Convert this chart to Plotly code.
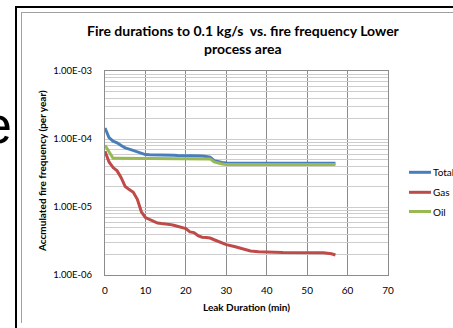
import plotly.graph_objects as go

# ---- data ----
duration = [0, 1, 2, 3, 4, 5, 6, 7, 8, 9, 10, 11, 12, 13, 14, 15, 16, 17, 18, 19,
            20, 21, 22, 23, 24, 25, 26, 27, 28, 29, 30, 32, 34, 36, 38, 40, 42, 44,
            46, 48, 50, 52, 54, 56, 57]

total = [1.45e-4, 1.05e-4, 9.3e-5, 8.8e-5, 8.0e-5, 7.4e-5, 7.1e-5, 6.8e-5, 6.5e-5, 6.1e-5,
         5.9e-5, 5.85e-5, 5.85e-5, 5.8e-5, 5.8e-5, 5.8e-5, 5.75e-5, 5.75e-5, 5.7e-5, 5.7e-5,
         5.7e-5, 5.65e-5, 5.6e-5, 5.6e-5, 5.6e-5, 5.55e-5, 5.4e-5, 4.8e-5, 4.6e-5, 4.5e-5,
         4.45e-5, 4.4e-5, 4.4e-5, 4.4e-5, 4.4e-5, 4.4e-5, 4.4e-5, 4.4e-5,
         4.4e-5, 4.4e-5, 4.4e-5, 4.4e-5, 4.4e-5, 4.4e-5, 4.4e-5]

gas = [6.6e-5, 4.6e-5, 3.8e-5, 3.4e-5, 2.7e-5, 2.0e-5, 1.8e-5, 1.65e-5, 1.3e-5, 8.5e-6,
       7.0e-6, 6.6e-6, 6.1e-6, 5.8e-6, 5.7e-6, 5.65e-6, 5.55e-6, 5.4e-6, 5.2e-6, 5.0e-6,
       4.8e-6, 4.3e-6, 4.2e-6, 3.8e-6, 3.6e-6, 3.55e-6, 3.5e-6, 3.3e-6, 3.1e-6, 2.95e-6,
       2.8e-6, 2.62e-6, 2.42e-6, 2.25e-6, 2.2e-6, 2.2e-6, 2.16e-6, 2.14e-6,
       2.13e-6, 2.12e-6, 2.12e-6, 2.12e-6, 2.12e-6, 2.05e-6, 1.97e-6]

oil = [8.1e-5, 6.4e-5, 5.2e-5, 5.2e-5, 5.2e-5, 5.2e-5, 5.2e-5, 5.2e-5, 5.2e-5, 5.2e-5,
       5.2e-5, 5.2e-5, 5.2e-5, 5.2e-5, 5.2e-5, 5.2e-5, 5.2e-5, 5.2e-5, 5.2e-5, 5.2e-5,
       5.2e-5, 5.2e-5, 5.2e-5, 5.2e-5, 5.2e-5, 5.2e-5, 5.1e-5, 4.6e-5, 4.4e-5, 4.3e-5,
       4.2e-5, 4.2e-5, 4.2e-5, 4.2e-5, 4.2e-5, 4.2e-5, 4.2e-5, 4.2e-5,
       4.2e-5, 4.2e-5, 4.2e-5, 4.2e-5, 4.2e-5, 4.2e-5, 4.2e-5]

series_names = ["Total", "Gas", "Oil"]
series_colors = ["#4A7EBB", "#BE4B48", "#98B954"]

x_ticks = [0, 10, 20, 30, 40, 50, 60, 70]
y_major = [1e-6, 1e-5, 1e-4, 1e-3]
y_major_text = ["1.00E-06", "1.00E-05", "1.00E-04", "1.00E-03"]

# ---- geometry ----
W, H = 453, 328
L, R, T, B = 105, 388, 71, 275   # plot area in pixels


def px_x(p):
    return (p - L) / (R - L)


def px_y(p):
    return (B - p) / (B - T)


FONT = "Lato"

fig = go.Figure()
for name, vals, col in zip(series_names, [total, gas, oil], series_colors):
    fig.add_trace(go.Scatter(x=duration, y=vals, mode="lines", name=name,
                             line=dict(color=col, width=3), showlegend=False))

# y tick values: decades labelled, intermediate minor values unlabelled
y_tickvals, y_ticktext = [], []
for v, t in zip(y_major, y_major_text):
    y_tickvals.append(v)
    y_ticktext.append(t)
    if v < 1e-3:
        for m in range(2, 10):
            y_tickvals.append(v * m)
            y_ticktext.append("")

fig.update_layout(
    width=W, height=H,
    margin=dict(l=L, r=W - R, t=T, b=H - B, pad=0),
    paper_bgcolor="white", plot_bgcolor="white",
    font=dict(family=FONT, color="#000000"),
    xaxis=dict(range=[0, 70], tickvals=x_ticks, showgrid=True, gridcolor="#8C8C8C",
               gridwidth=1, showline=True, linecolor="#8C8C8C", mirror=True,
               zeroline=False, ticks="", tickfont=dict(size=10, family=FONT),
               ticklabelstandoff=6,
               title=dict(text="<b>Leak Duration (min)</b>", font=dict(size=10, family=FONT),
                          standoff=8)),
    yaxis=dict(type="log", range=[-6, -3], tickvals=y_tickvals, ticktext=y_ticktext,
               showgrid=True, gridcolor="#CDCDCD", gridwidth=1, showline=True,
               linecolor="#8C8C8C", mirror=True, zeroline=False, ticks="",
               tickfont=dict(size=9.5, family=FONT), ticklabelstandoff=10),
)

# y axis title, placed where the reference shows it
fig.add_annotation(xref="paper", yref="paper", x=px_x(42), y=px_y(171),
                   text="<b>Accmulated fire frequency (per year)</b>", textangle=-90,
                   showarrow=False, font=dict(size=10, family=FONT),
                   xanchor="center", yanchor="middle")

# title
fig.add_annotation(xref="paper", yref="paper", x=px_x(243), y=px_y(30.5),
                   text="<b>Fire durations to 0.1 kg/s  vs. fire frequency Lower</b>",
                   showarrow=False, font=dict(size=14, family=FONT),
                   xanchor="center", yanchor="middle")
fig.add_annotation(xref="paper", yref="paper", x=px_x(243), y=px_y(49),
                   text="<b>process area</b>",
                   showarrow=False, font=dict(size=14, family=FONT),
                   xanchor="center", yanchor="middle")

# legend (manual, to match the Excel layout)
for name, col, ly in zip(series_names, series_colors, [172.3, 192.3, 211.5]):
    fig.add_shape(type="line", xref="paper", yref="paper",
                  x0=px_x(409), x1=px_x(431), y0=px_y(ly), y1=px_y(ly),
                  line=dict(color=col, width=3))
    fig.add_annotation(xref="paper", yref="paper", x=px_x(431), y=px_y(ly),
                       text=name, showarrow=False, font=dict(size=10, family=FONT),
                       xanchor="left", yanchor="middle", xshift=0)

# page frame around the chart
fig.add_shape(type="line", xref="paper", yref="paper", x0=px_x(16), x1=px_x(16),
              y0=px_y(6), y1=px_y(330), line=dict(color="black", width=2))
fig.add_shape(type="line", xref="paper", yref="paper", x0=px_x(15), x1=px_x(460),
              y0=px_y(7), y1=px_y(7), line=dict(color="black", width=2))
fig.add_shape(type="line", xref="paper", yref="paper", x0=px_x(21.5), x1=px_x(21.5),
              y0=px_y(12), y1=px_y(323), line=dict(color="#A0A0A0", width=1))
fig.add_shape(type="line", xref="paper", yref="paper", x0=px_x(21.5), x1=px_x(460),
              y0=px_y(12.5), y1=px_y(12.5), line=dict(color="#A0A0A0", width=1))

# large clipped letter from the surrounding document
fig.add_annotation(xref="paper", yref="paper", x=px_x(-3), y=px_y(125),
                   text="e", showarrow=False,
                   font=dict(size=52, family="Liberation Sans", color="black"),
                   xanchor="center", yanchor="middle")

fig.write_html("out.html", config={"displayModeBar": False},
               post_script="document.body.style.margin='0';document.body.style.overflow='hidden';")
